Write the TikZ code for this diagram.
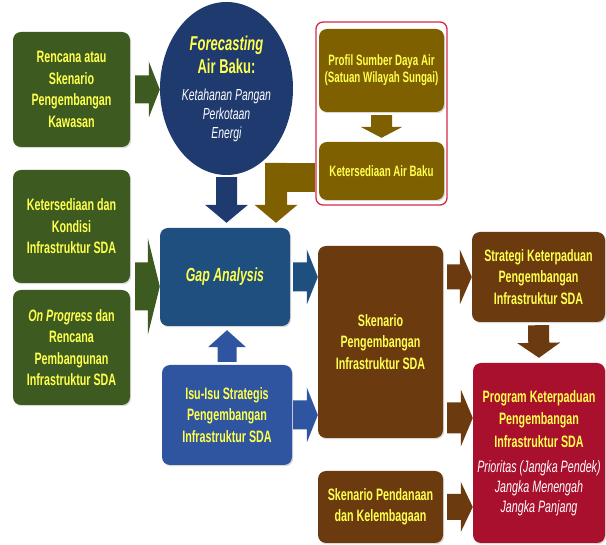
\documentclass[tikz,border=0pt]{standalone}
\usepackage{fontspec}
\setmainfont{Liberation Sans}[FakeStretch=0.65]
\usetikzlibrary{calc,shapes.geometric,shadows}
\definecolor{cgreen}{HTML}{3D5A20}
\definecolor{cnavy}{HTML}{1F3A6E}
\definecolor{cgap}{HTML}{1F4F7F}
\definecolor{cisu}{HTML}{2F55A0}
\definecolor{cgold}{HTML}{7F6000}
\definecolor{cbrown}{HTML}{6B3A0E}
\definecolor{ccrim}{HTML}{A8102E}
\definecolor{cred}{HTML}{D42A4A}
\definecolor{ctxt}{HTML}{FFFF4D}
% block arrow: colour, start, end, shaft half width, head half width, head length
\newcommand\blkarrow[6]{%
  \coordinate (bas) at #2;
  \coordinate (bae) at #3;
  \coordinate (bah) at ($(bae)!#6!(bas)$);
  \fill[#1] ($(bas)!#4!90:(bae)$) -- ($(bah)!#4!90:(bae)$) -- ($(bah)!#5!90:(bae)$)
    -- (bae) -- ($(bah)!#5!-90:(bae)$) -- ($(bah)!#4!-90:(bae)$) -- ($(bas)!#4!-90:(bae)$) -- cycle;}
\tikzset{
  box/.style={rounded corners=8pt, align=center, text=ctxt, inner sep=2pt,
    font=\bfseries\fontsize{16.5}{21.5}\selectfont,
    drop shadow={shadow xshift=1.2pt,shadow yshift=-1.2pt,opacity=.3}},
}
\begin{document}
\begin{tikzpicture}[x=1pt,y=-1pt]
\useasboundingbox (0,0) rectangle (606,545);
% left column
\node[box, fill=cgreen, minimum width=117pt, minimum height=115pt] (rk) at (71.5,89.5)
  {Rencana atau\\Skenario\\Pengembangan\\Kawasan};
\node[box, fill=cgreen, minimum width=117pt, minimum height=113pt] (kk) at (71.5,226.5)
  {Ketersediaan dan\\Kondisi\\Infrastruktur SDA};
\node[box, fill=cgreen, minimum width=117pt, minimum height=115pt] (op) at (71.5,347.5)
  {\textit{On Progress} dan\\Rencana\\Pembangunan\\Infrastruktur SDA};
% forecasting ellipse
\node[ellipse, fill=cnavy, minimum width=133pt, minimum height=173pt, inner sep=0pt,
  align=center, text=ctxt, font=\fontsize{16}{19}\selectfont] (fc) at (226.5,88.5)
  {{\bfseries\itshape\fontsize{20}{23}\selectfont Forecasting}\\[4pt]
   {\bfseries\fontsize{20}{23}\selectfont Air Baku:}\\[8pt]
   {\itshape\color{white}Ketahanan Pangan}\\
   {\itshape\color{white}Perkotaan}\\
   {\itshape\color{white}Energi}};
% elbow band (behind container)
\coordinate (elb) at (276,163);
% red container
\node[draw=cred, line width=1.3pt, fill=white, rounded corners=7pt,
  minimum width=131pt, minimum height=183pt, inner sep=0pt] (grp) at (381.5,113.5) {};
\fill[cgold] ($(elb)+(-11,0)$) rectangle (grp.west |- 0,192);
\node[box, fill=cgold, minimum width=125pt, minimum height=83pt,
  font=\bfseries\fontsize{15}{17}\selectfont] (pr) at (381.5,70.5)
  {Profil Sumber Daya Air\\(Satuan Wilayah Sungai)};
\node[box, fill=cgold, minimum width=125pt, minimum height=58pt,
  font=\bfseries\fontsize{15}{17}\selectfont] (ka) at (381.5,171)
  {Ketersediaan Air Baku};
% gap analysis and isu
\node[box, fill=cgap, minimum width=130pt, minimum height=98pt,
  font=\bfseries\itshape\fontsize{19}{22}\selectfont] (gap) at (225,277) {Gap Analysis};
\node[box, fill=cisu, minimum width=130pt, minimum height=100pt] (isu) at (227,415)
  {Isu-Isu Strategis\\Pengembangan\\Infrastruktur SDA};
% brown column
\node[box, fill=cbrown, minimum width=125pt, minimum height=192pt] (sk) at (380.5,342)
  {Skenario\\Pengembangan\\Infrastruktur SDA};
\node[box, fill=cbrown, minimum width=125pt, minimum height=72pt] (sp) at (380.5,507)
  {Skenario Pendanaan\\dan Kelembagaan};
\node[box, fill=cbrown, minimum width=133pt, minimum height=90pt] (st) at (538.5,277)
  {Strategi Keterpaduan\\Pengembangan\\Infrastruktur SDA};
\node[box, fill=ccrim, minimum width=132pt, minimum height=180pt,
  font=\bfseries\fontsize{16.5}{20}\selectfont] (pg) at (539,453)
  {Program Keterpaduan\\[2.5pt]Pengembangan\\[2.5pt]Infrastruktur SDA\\[5pt]
   {\mdseries\itshape\color{white}Prioritas (Jangka Pendek)}\\
   {\mdseries\itshape\color{white}Jangka Menengah}\\
   {\mdseries\itshape\color{white}Jangka Panjang}};
% arrows
\blkarrow{cgreen}{($(rk.east)+(5,0)$)}{(fc.west |- rk.east)}{14pt}{28pt}{11pt}
\coordinate (m2) at ($(kk.south east)!.5!(op.north east)$);
\blkarrow{cgreen}{($(m2)+(5,0)$)}{(gap.west |- m2)}{24pt}{48.5pt}{12pt}
\blkarrow{cnavy}{($(fc.south)+(0,2)$)}{($(fc.south |- gap.north)+(0,-5)$)}{10.5pt}{21.5pt}{18pt}
\blkarrow{cgold}{(elb)}{($(elb |- gap.north)+(0,-5)$)}{11pt}{21.5pt}{18pt}
\blkarrow{cgold}{($(pr.south)+(0,3)$)}{($(ka.north)+(0,-4)$)}{10.5pt}{21pt}{11pt}
\blkarrow{cisu}{($(isu.north)+(0,-3)$)}{($(isu.north |- gap.south)+(0,4)$)}{9.5pt}{19pt}{17pt}
\blkarrow{cgap}{($(gap.east)+(3,0)$)}{(sk.west |- gap.east)}{14.5pt}{27.5pt}{11pt}
\blkarrow{cisu}{($(isu.east)+(1,0)$)}{(sk.west |- isu.east)}{14.5pt}{27.5pt}{11pt}
\blkarrow{cbrown}{($(sk.east |- st.west)+(4,0)$)}{(st.west)}{12.5pt}{27.5pt}{12pt}
\blkarrow{cbrown}{($(st.south)+(0,3)$)}{($(pg.north)+(0,-5)$)}{10.5pt}{21.5pt}{15pt}
\blkarrow{cbrown}{($(sk.east |- pg.west)+(4,-35)$)}{($(pg.west)+(0,-35)$)}{15.5pt}{28.5pt}{12pt}
\blkarrow{cbrown}{($(sp.east)+(4,0)$)}{(pg.west |- sp.east)}{13pt}{25pt}{12pt}
\end{tikzpicture}
\end{document}
